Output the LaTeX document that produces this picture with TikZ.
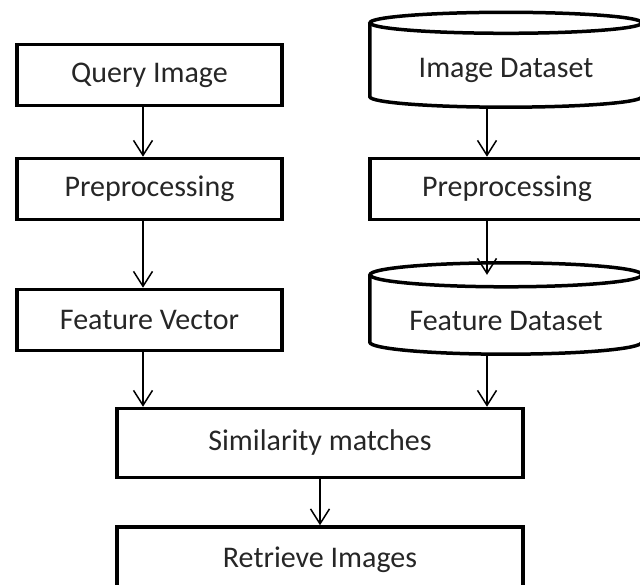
\documentclass[tikz,border=0pt]{standalone}
\usepackage{fontspec}
\setmainfont{Carlito}
\usetikzlibrary{arrows.meta}
\definecolor{ink}{HTML}{262626}
\begin{document}
\begin{tikzpicture}[x=1pt,y=-1pt,
  lbl/.style={font=\fontsize{30}{36}\selectfont, text=ink, inner sep=0pt},
  box/.style={lbl, draw=black, line width=3.5pt},
  cyl/.style={draw=black, line width=3.5pt},
  flow/.style={line width=1.5pt, -{Straight Barb[length=15pt,width=19pt,line width=1.5pt]}}]
\useasboundingbox (0,0) rectangle (640,585);
\clip (0,0) rectangle (640,585);

% columns of the connectors
\coordinate (lcol) at (143,0);
\coordinate (rcol) at (487,0);

% left column: query path
\node[box, minimum width=265pt, minimum height=61pt] (query) at (149.5,75) {Query Image};
\node[box, minimum width=265pt, minimum height=61pt] (prepl) at (149.5,189) {Preprocessing};
\node[box, minimum width=265pt, minimum height=61pt] (fvec) at (149.5,320) {Feature Vector};

% right column: dataset path
\node[lbl, minimum width=272pt, minimum height=73.5pt] (imgds) at (506,70.25) {Image Dataset};
\draw[cyl] ([yshift=10.5pt]imgds.north) ellipse [x radius=136pt, y radius=10.5pt];
\draw[cyl] ([yshift=10.5pt]imgds.north west) -- ([yshift=10.5pt]imgds.south west)
  arc[start angle=180, end angle=360, x radius=136pt, y radius=10.5pt]
  -- ([yshift=10.5pt]imgds.north east);

\node[box, minimum width=274pt, minimum height=61pt] (prepr) at (507,189) {Preprocessing};

\node[lbl, minimum width=272pt, minimum height=67pt] (featds) at (506,320.5) {Feature Dataset};
\draw[cyl] ([yshift=12pt]featds.north) ellipse [x radius=136pt, y radius=12pt];
\draw[cyl] ([yshift=12pt]featds.north west) -- ([yshift=12pt]featds.south west)
  arc[start angle=180, end angle=360, x radius=136pt, y radius=12pt]
  -- ([yshift=12pt]featds.north east);

% merged steps
\node[box, minimum width=406pt, minimum height=69pt] (sim) at (320,443) {Similarity matches};
\node[box, minimum width=406pt, minimum height=66pt] (ret) at (320,560) {Retrieve Images};

% connectors
\draw[flow] (query.south -| lcol) -- (prepl.north -| lcol);
\draw[flow] (prepl.south -| lcol) -- (fvec.north -| lcol);
\draw[flow] (fvec.south -| lcol) -- (sim.north -| lcol);
\draw[flow] (imgds.south -| rcol) -- (prepr.north -| rcol);
\draw[flow] (prepr.south -| rcol) -- ([yshift=12pt]featds.north -| rcol);
\draw[flow] (featds.south -| rcol) -- (sim.north -| rcol);
\draw[flow] (sim) -- (ret);
\end{tikzpicture}
\end{document}
